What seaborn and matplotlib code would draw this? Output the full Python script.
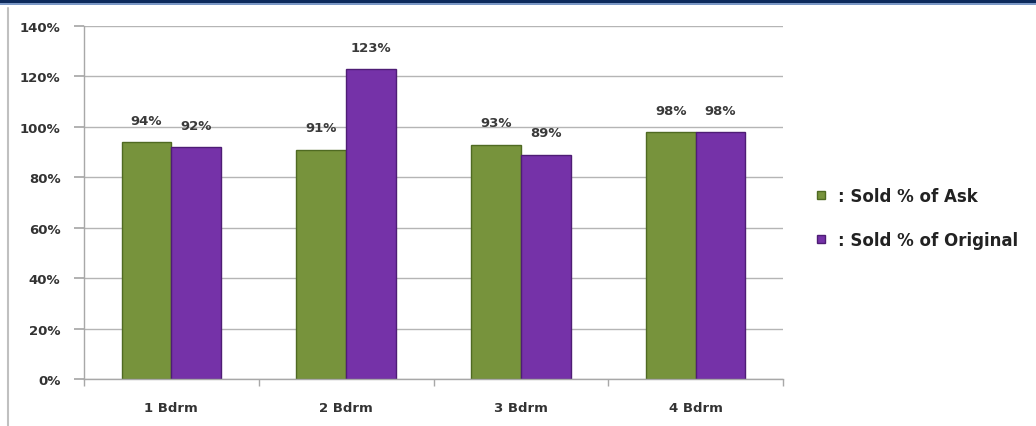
import matplotlib
matplotlib.use("Agg")
import matplotlib.pyplot as plt
import seaborn as sns
import pandas as pd
from matplotlib.patches import Rectangle
from matplotlib.lines import Line2D

categories = ["1 Bdrm", "2 Bdrm", "3 Bdrm", "4 Bdrm"]
sold_of_ask = [94, 91, 93, 98]
sold_of_original = [92, 123, 89, 98]
series_names = ["Sold % of Ask", "Sold % of Original"]
y_ticks = [0, 20, 40, 60, 80, 100, 120, 140]

colors = ["#77933c", "#7532a8"]
edges = ["#4f6a22", "#4e1d75"]

df = pd.DataFrame({
    "cat": categories * 2,
    "val": sold_of_ask + sold_of_original,
    "series": [series_names[0]] * 4 + [series_names[1]] * 4,
})

sns.set_theme(style="white")
plt.rcParams['font.family'] = ['DejaVu Sans']

W, H = 1036, 427
fig = plt.figure(figsize=(W / 100, H / 100), dpi=100)
# header strip and frame
fig.patches.append(Rectangle((0, 1 - 4/H), 1, 4/H, transform=fig.transFigure,
                             facecolor="#0d2a5c", edgecolor="none", zorder=0))
fig.patches.append(Rectangle((0, 1 - 6/H), 1, 2/H, transform=fig.transFigure,
                             facecolor="#7b98c6", edgecolor="none", zorder=0))
fig.add_artist(Line2D([8/W, 8/W], [0, 1 - 9/H], transform=fig.transFigure,
                      color="#c0c0c0", lw=1.5))

ax = fig.add_axes([84/W, (H - 380)/H, (783 - 84)/W, (380 - 27)/H])
sns.barplot(data=df, x="cat", y="val", hue="series", order=categories,
            hue_order=series_names, palette=colors, width=0.57, gap=0.0,
            ax=ax, legend=False, saturation=1)

for i, cont in enumerate(ax.containers):
    for bar in cont:
        bar.set_edgecolor(edges[i])
        bar.set_linewidth(1.0)
    ax.bar_label(cont, labels=[f"{int(v)}%" for v in cont.datavalues], padding=11,
                 fontsize=9.5, fontweight="bold", color="#3a3a3a")

ax.set_ylim(0, 140)
ax.set_yticks(y_ticks)
ax.set_yticklabels([f"{t}%" for t in y_ticks], fontsize=9.5, fontweight="bold", color="#333333")
ax.set_xlim(-0.5, 3.5)
ax.set_xticks(range(4))
ax.set_xticklabels(categories, fontsize=9.5, fontweight="bold", color="#333333")
ax.tick_params(axis="x", length=0, pad=16)
ax.tick_params(axis="y", length=7, color="#a8a8a8", left=True, pad=10)
ax.set_xticks([-0.5, 0.5, 1.5, 2.5, 3.5], minor=True)
ax.tick_params(axis="x", which="minor", length=5, color="#a8a8a8", bottom=True, direction="out")
ax.set_xlabel("")
ax.set_ylabel("")
ax.yaxis.grid(True, color="#b5b5b5", lw=1)
ax.set_axisbelow(True)
for s in ["top", "right"]:
    ax.spines[s].set_visible(False)
for s in ["left", "bottom"]:
    ax.spines[s].set_color("#a8a8a8")
    ax.spines[s].set_linewidth(1)

handles = [Line2D([0], [0], marker="s", linestyle="none", markersize=6,
                  markerfacecolor=c, markeredgecolor=e) for c, e in zip(colors, edges)]
fig.legend(handles, [": " + s for s in series_names], loc="upper left",
           bbox_to_anchor=(798/W, 1 - 181/H), frameon=False,
           prop={"weight": "bold", "size": 12}, handletextpad=0.0,
           labelspacing=1.55, labelcolor="#222222", borderaxespad=0)

fig.savefig("out.png", dpi=100, facecolor="white")
